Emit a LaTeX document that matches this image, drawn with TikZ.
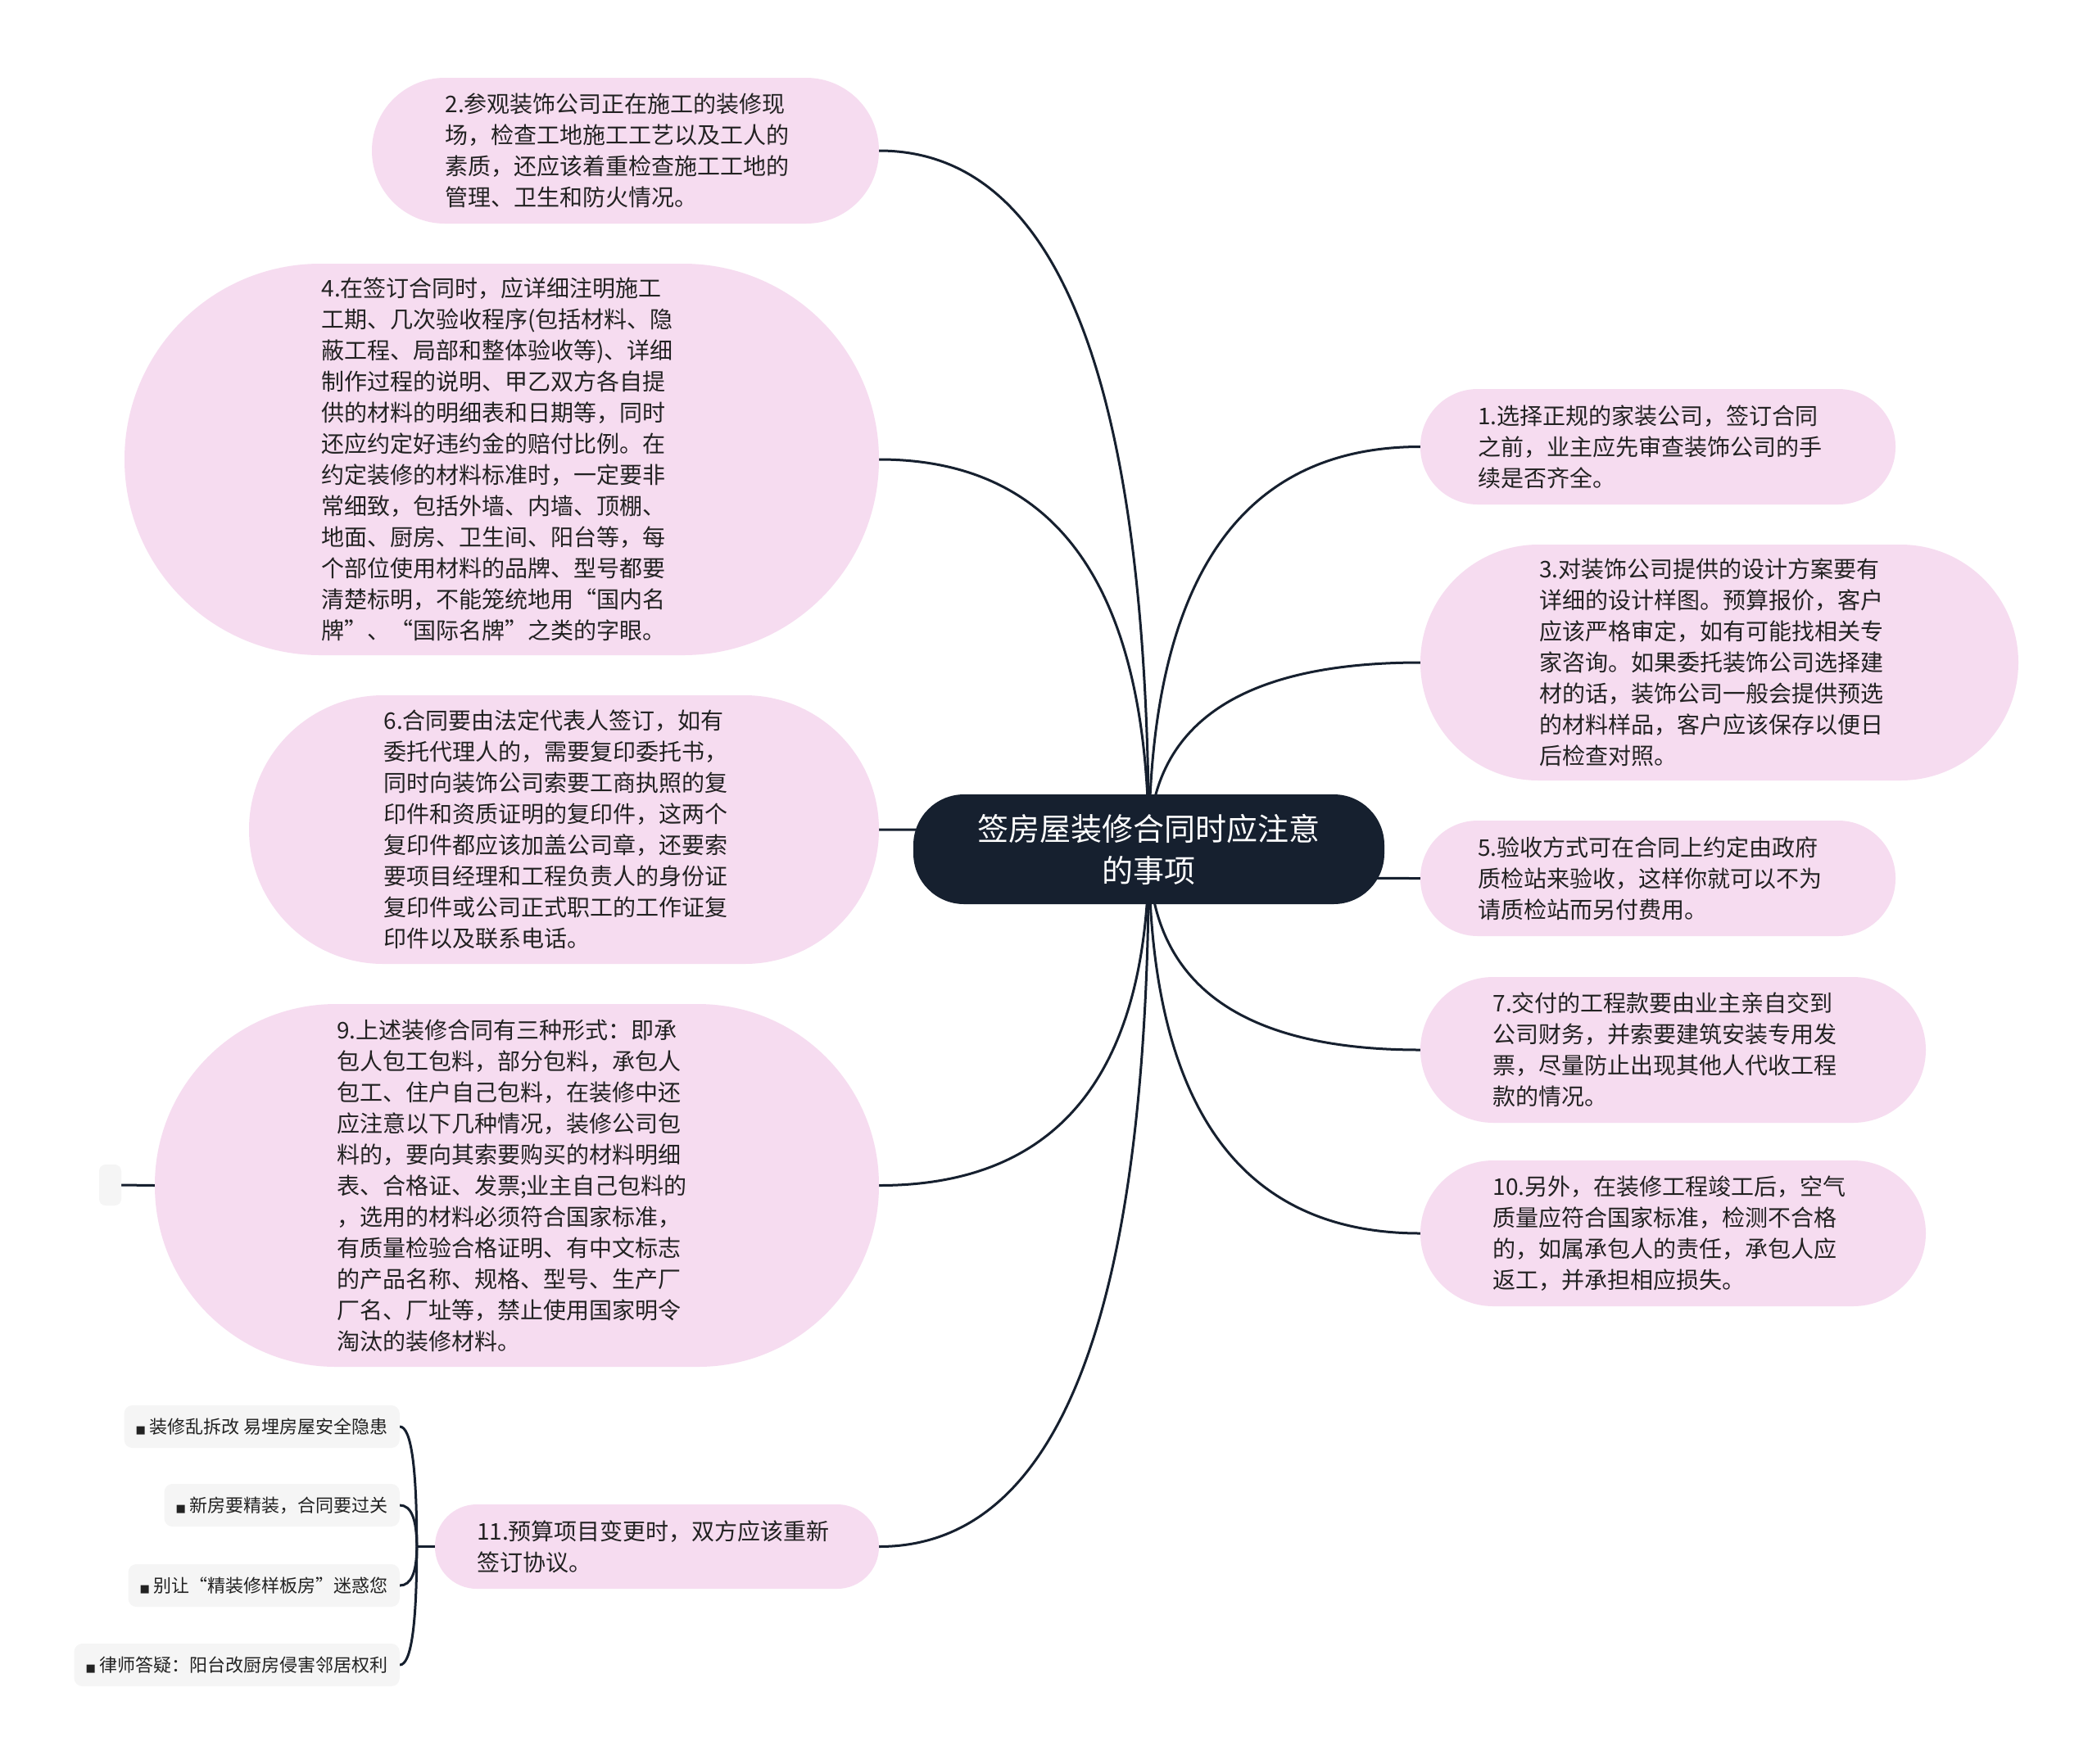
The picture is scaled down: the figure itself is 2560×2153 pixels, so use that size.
\documentclass[tikz,border=0pt]{standalone}
\usepackage{fontspec}
\setmainfont{Noto Sans CJK SC}
\newfontfamily\dejavu{DejaVu Sans}
\usetikzlibrary{calc,backgrounds}
\definecolor{pinkc}{RGB}{246,220,240}
\definecolor{navy}{RGB}{22,32,47}
\definecolor{leafc}{RGB}{245,245,245}
\definecolor{txtc}{RGB}{34,34,34}
\newcommand\rlink[2]{%
  \path (root.center |- #1.#2) coordinate (k#1);
  \draw[conn] (root.center) .. controls ($(root.center)!2/3!(k#1)$) and ($(#1.#2)!2/3!(k#1)$) .. (#1.#2);}
\newcommand\llink[1]{%
  \path (j11 |- #1.east) coordinate (k#1);
  \draw[conn] (j11) .. controls ($(j11)!2/3!(k#1)$) and ($(#1.east)!2/3!(k#1)$) .. (#1.east);}
\newcommand\sq{{\dejavu\fontsize{13}{13}\selectfont ■}}
\begin{document}
\begin{tikzpicture}[x=1pt,y=-1pt,
 pill/.style={fill=pinkc, text=txtc, inner sep=0pt, text width=440pt, align=left, font=\fontsize{28}{38}\selectfont},
 rootbox/.style={fill=navy, text=white, inner sep=0pt, align=center, font=\fontsize{38}{51}\selectfont, minimum width=575pt, minimum height=134pt, rounded corners=62pt},
 leaf/.style={fill=leafc, text=txtc, rounded corners=10pt, inner xsep=14pt, inner ysep=0pt, minimum height=52pt, anchor=east, font=\fontsize{22}{26}\selectfont},
 conn/.style={draw=navy, line width=3pt},
]
\useasboundingbox (0,0) rectangle (2560,2153);

\node[rootbox] (root) at (1402.5,1037) {签房屋装修合同时应注意\\的事项};

% left side
\node[pill, minimum width=619pt, minimum height=178pt, rounded corners=89pt] (n2) at (763.5,184)
 {2.参观装饰公司正在施工的装修现\\场，检查工地施工工艺以及工人的\\素质，还应该着重检查施工工地的\\管理、卫生和防火情况。};
\node[pill, minimum width=921pt, minimum height=478pt, rounded corners=239pt] (n4) at (612.5,561)
 {4.在签订合同时，应详细注明施工\\工期、几次验收程序(包括材料、隐\\蔽工程、局部和整体验收等)、详细\\制作过程的说明、甲乙双方各自提\\供的材料的明细表和日期等，同时\\还应约定好违约金的赔付比例。在\\约定装修的材料标准时，一定要非\\常细致，包括外墙、内墙、顶棚、\\地面、厨房、卫生间、阳台等，每\\个部位使用材料的品牌、型号都要\\清楚标明，不能笼统地用“国内名\\牌”、“国际名牌”之类的字眼。};
\node[pill, minimum width=769pt, minimum height=328pt, rounded corners=164pt] (n6) at (688.5,1013)
 {6.合同要由法定代表人签订，如有\\委托代理人的，需要复印委托书，\\同时向装饰公司索要工商执照的复\\印件和资质证明的复印件，这两个\\复印件都应该加盖公司章，还要索\\要项目经理和工程负责人的身份证\\复印件或公司正式职工的工作证复\\印件以及联系电话。};
\node[pill, minimum width=884pt, minimum height=443pt, rounded corners=221pt] (n9) at (631,1447.5)
 {9.上述装修合同有三种形式：即承\\包人包工包料，部分包料，承包人\\包工、住户自己包料，在装修中还\\应注意以下几种情况，装修公司包\\料的，要向其索要购买的材料明细\\表、合格证、发票;业主自己包料的\\，选用的材料必须符合国家标准，\\有质量检验合格证明、有中文标志\\的产品名称、规格、型号、生产厂\\厂名、厂址等，禁止使用国家明令\\淘汰的装修材料。};
\node[pill, minimum width=542pt, minimum height=103pt, rounded corners=51pt] (n11) at (802,1888.5)
 {11.预算项目变更时，双方应该重新\\签订协议。};

% right side
\node[pill, minimum width=580pt, minimum height=141pt, rounded corners=70pt] (n1) at (2024,545.5)
 {1.选择正规的家装公司，签订合同\\之前，业主应先审查装饰公司的手\\续是否齐全。};
\node[pill, minimum width=730pt, minimum height=288pt, rounded corners=144pt] (n3) at (2099,809)
 {3.对装饰公司提供的设计方案要有\\详细的设计样图。预算报价，客户\\应该严格审定，如有可能找相关专\\家咨询。如果委托装饰公司选择建\\材的话，装饰公司一般会提供预选\\的材料样品，客户应该保存以便日\\后检查对照。};
\node[pill, minimum width=580pt, minimum height=141pt, rounded corners=70pt] (n5) at (2024,1072.5)
 {5.验收方式可在合同上约定由政府\\质检站来验收，这样你就可以不为\\请质检站而另付费用。};
\node[pill, minimum width=617pt, minimum height=178pt, rounded corners=89pt] (n7) at (2042.5,1282)
 {7.交付的工程款要由业主亲自交到\\公司财务，并索要建筑安装专用发\\票，尽量防止出现其他人代收工程\\款的情况。};
\node[pill, minimum width=617pt, minimum height=178pt, rounded corners=89pt] (n10) at (2042.5,1506)
 {10.另外，在装修工程竣工后，空气\\质量应符合国家标准，检测不合格\\的，如属承包人的责任，承包人应\\返工，并承担相应损失。};

% small empty node
\node[fill=leafc, rounded corners=8pt, minimum width=27pt, minimum height=50pt, inner sep=0pt] (e9) at (134.5,1447) {};

% leaves of 11
\node[leaf] (l1) at (488,1742) {\sq{} 装修乱拆改 易埋房屋安全隐患};
\node[leaf] (l2) at (488,1838) {\sq{} 新房要精装，合同要过关};
\node[leaf] (l3) at (488,1936) {\sq{} 别让“精装修样板房”迷惑您};
\node[leaf] (l4) at (488,2033) {\sq{} 律师答疑：阳台改厨房侵害邻居权利};

\coordinate (j11) at ($(n11.west)+(-22,0)$);

\begin{pgfonlayer}{background}
\fill[white] (0,0) rectangle (2560,2153);
\rlink{n2}{east}
\rlink{n4}{east}
\rlink{n6}{east}
\rlink{n9}{east}
\rlink{n11}{east}
\rlink{n1}{west}
\rlink{n3}{west}
\rlink{n5}{west}
\rlink{n7}{west}
\rlink{n10}{west}
\draw[conn] (n9.west) -- (e9.east);
\draw[conn] (n11.west) -- (j11);
\llink{l1}
\llink{l2}
\llink{l3}
\llink{l4}
\end{pgfonlayer}
\end{tikzpicture}
\end{document}
